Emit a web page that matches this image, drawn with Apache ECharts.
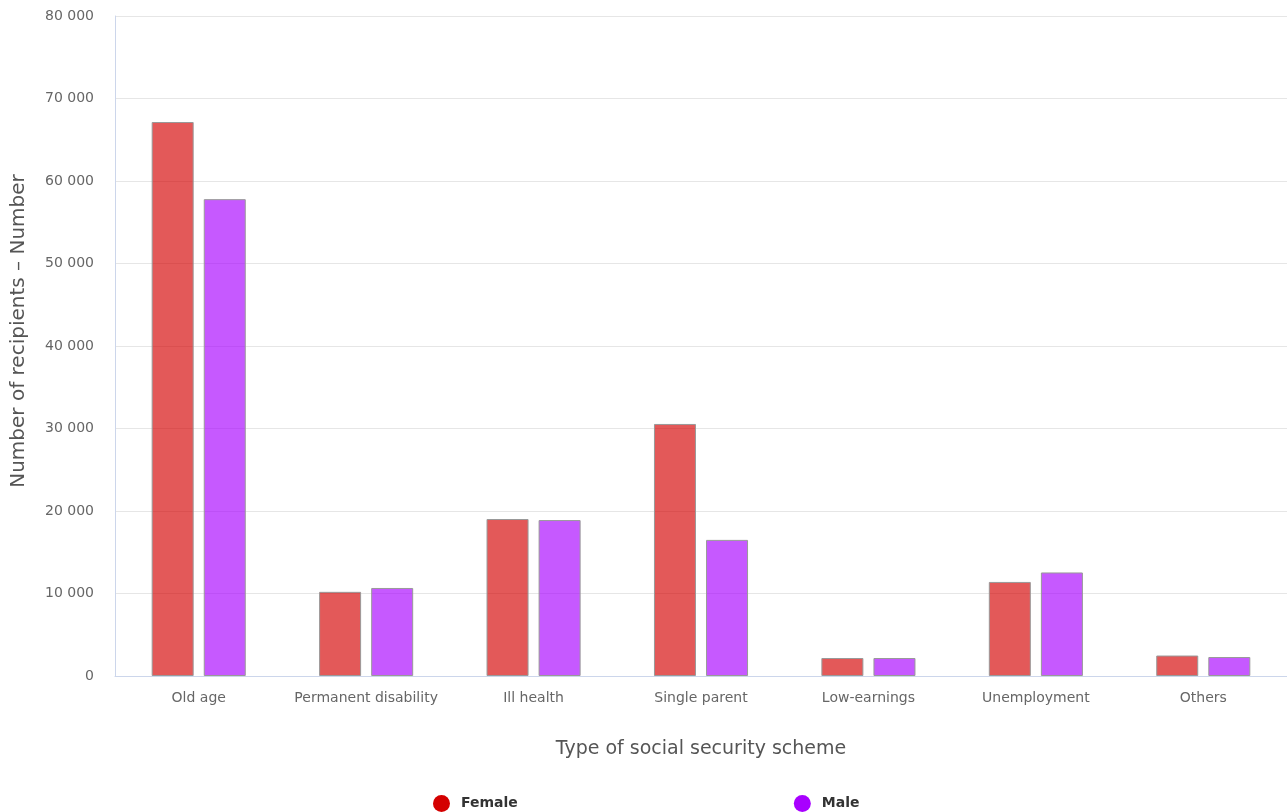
<!DOCTYPE html>
<html>
<head>
<meta charset="utf-8">
<script src="https://cdn.jsdelivr.net/npm/echarts@6/dist/echarts.min.js"></script>
<style>
html,body{margin:0;padding:0;background:#fff;}
#c{width:1287px;height:812px;}
</style>
</head>
<body>
<div id="c"></div>
<script>
const categories = ['Old age','Permanent disability','Ill health','Single parent','Low-earnings','Unemployment','Others'];
const female = [67150, 10200, 19030, 30550, 2180, 11400, 2480];
const male = [57800, 10670, 18900, 16500, 2180, 12550, 2300];
const seriesNames = ['Female','Male'];
const yTicks = {min:0, max:80000, interval:10000};

const fmt = v => String(v).replace(/\B(?=(\d{3})+(?!\d))/g, ' ');
const font = '"DejaVu Sans", sans-serif';

const chart = echarts.init(document.getElementById('c'));
chart.setOption({
  animation:false,
  textStyle:{fontFamily:font},
  grid:{left:115,right:0,top:16,bottom:136,containLabel:false,outerBoundsMode:'none'},
  legend:{
    top:790,left:428,itemGap:276,icon:'circle',itemWidth:17,itemHeight:17,
    textStyle:{fontSize:14,fontWeight:'bold',color:'#333',fontFamily:font,padding:[0,0,0,6]},
    data:[{name:'Female',itemStyle:{color:'#d40000',opacity:1,borderWidth:0}},{name:'Male',itemStyle:{color:'#a800ff',opacity:1,borderWidth:0}}]
  },
  xAxis:{
    type:'category',data:categories,
    name:'Type of social security scheme',nameLocation:'middle',nameGap:64,
    nameTextStyle:{fontSize:19,color:'#555',fontFamily:font},
    axisLine:{lineStyle:{color:'#ccd6eb'}},
    axisTick:{show:false},
    axisLabel:{fontSize:14,color:'#666',margin:15,interval:0}
  },
  yAxis:{
    type:'value',min:yTicks.min,max:yTicks.max,interval:yTicks.interval,
    name:'Number of recipients – Number',nameLocation:'middle',nameGap:86,
    nameTextStyle:{fontSize:20,color:'#555',fontFamily:font,padding:[0,0,0,30]},
    axisLine:{show:true,lineStyle:{color:'#ccd6eb'}},
    splitLine:{lineStyle:{color:'#e6e6e6'}},
    axisLabel:{fontSize:14,color:'#666',margin:21,formatter:fmt}
  },
  series:[
    {name:seriesNames[0],type:'bar',data:female,barWidth:42,barGap:'24%',
     itemStyle:{color:'rgba(212,0,0,0.65)',borderColor:'#999',borderWidth:1}},
    {name:seriesNames[1],type:'bar',data:male,barWidth:42,barGap:'24%',
     itemStyle:{color:'rgba(168,0,255,0.65)',borderColor:'#999',borderWidth:1}}
  ]
});
</script>
</body>
</html>
